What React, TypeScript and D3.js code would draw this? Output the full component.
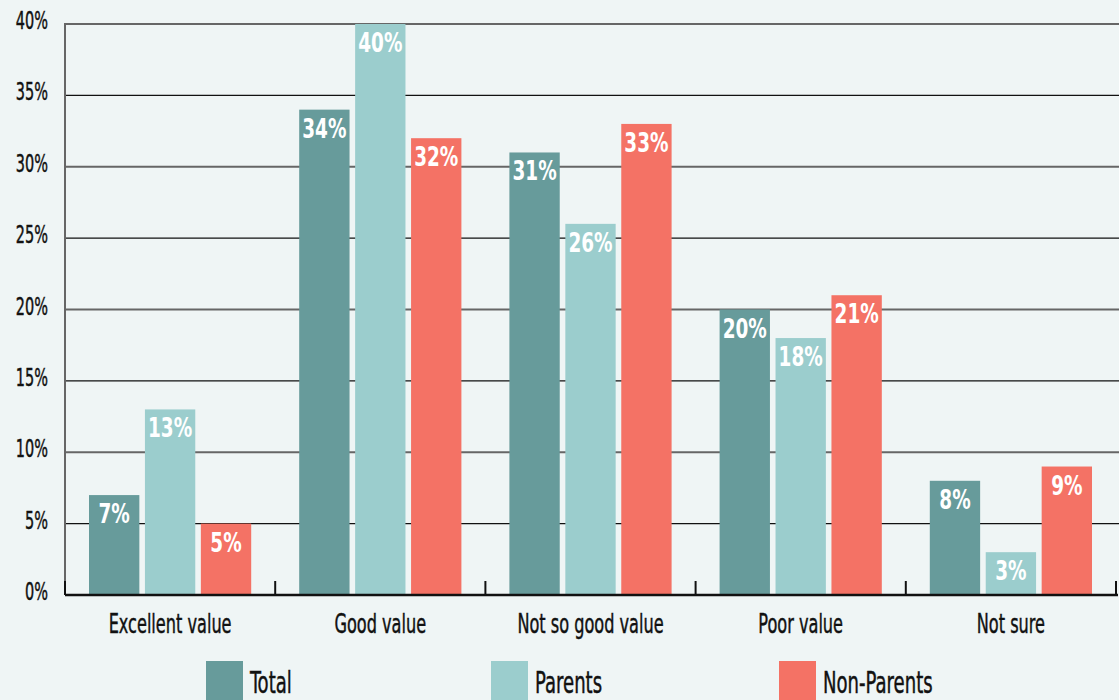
import React from "react";
import * as d3 from "d3";

const categories = ["Excellent value", "Good value", "Not so good value", "Poor value", "Not sure"];
const seriesNames = ["Total", "Parents", "Non-Parents"];
const totalValues = [7, 34, 31, 20, 8];
const parentsValues = [13, 40, 26, 18, 3];
const nonParentsValues = [5, 32, 33, 21, 9];
const yTicks = [0, 5, 10, 15, 20, 25, 30, 35, 40];
const colors = ["#679b9b", "#9bcdcd", "#f47265"];

const W = 1119;
const H = 700;
const FONT = "'DejaVu Sans Condensed', 'DejaVu Sans', sans-serif";

function CText(props: {
  x: number;
  y: number;
  sx: number;
  size: number;
  anchor?: string;
  weight?: string;
  fill?: string;
  children: React.ReactNode;
}) {
  const { x, y, sx, size, anchor = "start", weight = "normal", fill = "#111", children } = props;
  return (
    <text
      transform={`translate(${x},${y}) scale(${sx},1)`}
      textAnchor={anchor}
      fontSize={size}
      fontWeight={weight}
      fill={fill}
      stroke={weight === "normal" ? fill : "none"}
      strokeWidth={weight === "normal" ? 0.45 : 0}
      fontFamily={FONT}
    >
      {children}
    </text>
  );
}

export default function App() {
  const series = [totalValues, parentsValues, nonParentsValues];
  const left = 65;
  const right = 1116;
  const top = 24;
  const bottom = 595;
  const x = d3.scaleBand<string>().domain(categories).range([left, right]).paddingInner(0).paddingOuter(0);
  const inner = d3
    .scaleBand<string>()
    .domain(seriesNames)
    .range([24, x.bandwidth() - 24])
    .paddingInner(0.1)
    .paddingOuter(0);
  const y = d3.scaleLinear().domain([0, 40]).range([bottom, top]);

  const boundaries = categories.map((c) => x(c) as number).concat([right]);

  const legendX = [206, 491, 779];

  return (
    <svg
      width={W}
      height={H}
      style={{ position: "absolute", left: 0, top: 0, background: "#eff5f5" }}
      fontFamily={FONT}
    >
      <rect x={0} y={0} width={W} height={H} fill="#eff5f5" />
      {/* gridlines */}
      {yTicks.map((t) =>
        t === 0 ? null : (
          <line
            key={t}
            x1={left}
            x2={W}
            y1={y(t)}
            y2={y(t)}
            stroke={t % 10 === 0 ? "#666" : "#111"}
            strokeWidth={t % 10 === 0 ? 2 : 1.3}
          />
        )
      )}
      {/* y axis line */}
      <line x1={left} x2={left} y1={top - 1} y2={bottom} stroke="#666" strokeWidth={2} />
      {/* y tick labels */}
      {yTicks.map((t) => (
        <CText key={t} x={48} y={y(t) + 5} sx={0.67} size={24} anchor="end">
          {t}%
        </CText>
      ))}
      {/* bars */}
      {categories.map((c, ci) =>
        seriesNames.map((s, si) => {
          const v = series[si][ci];
          const bx = (x(c) as number) + (inner(s) as number);
          const bw = inner.bandwidth();
          return (
            <g key={c + s}>
              <rect x={bx} y={y(v)} width={bw} height={bottom - y(v)} fill={colors[si]} />
              <CText x={bx + bw / 2} y={y(v) + 28} sx={0.76} size={27} anchor="middle" weight="bold" fill="#fff">
                {v}%
              </CText>
            </g>
          );
        })
      )}
      {/* x axis */}
      <line x1={left} x2={right + 2} y1={bottom} y2={bottom} stroke="#111" strokeWidth={2.5} />
      {boundaries.map((b, i) => (
        <line key={i} x1={b} x2={b} y1={bottom - 14} y2={bottom} stroke="#111" strokeWidth={2} />
      ))}
      {categories.map((c) => (
        <CText key={c} x={(x(c) as number) + x.bandwidth() / 2} y={633} sx={0.665} size={27} anchor="middle">
          {c}
        </CText>
      ))}
      {/* legend */}
      {seriesNames.map((s, i) => (
        <g key={s}>
          <rect x={legendX[i]} y={661} width={37} height={39} fill={colors[i]} />
          <CText x={legendX[i] + 44} y={693} sx={0.67} size={30}>
            {s}
          </CText>
        </g>
      ))}
    </svg>
  );
}
